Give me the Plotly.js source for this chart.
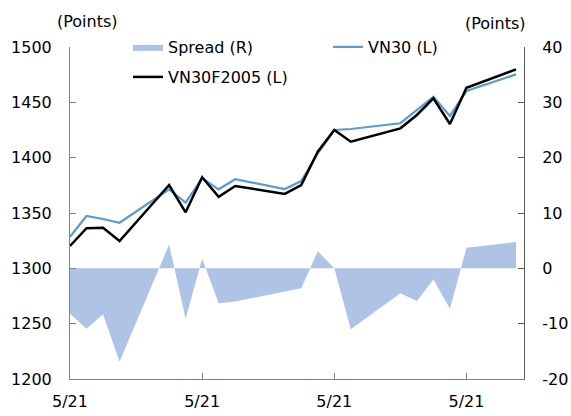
<!DOCTYPE html>
<html>
<head>
<meta charset="utf-8">
<script src="https://cdn.plot.ly/plotly-3.0.1.min.js"></script>
<style>html,body{margin:0;padding:0;background:#fff;}#chart{width:571px;height:416px;}</style>
</head>
<body>
<div id="chart"></div>
<script>
// Trading days (May 2021)
const dates = ["2021-05-04","2021-05-05","2021-05-06","2021-05-07",
  "2021-05-10","2021-05-11","2021-05-12","2021-05-13","2021-05-14",
  "2021-05-17","2021-05-18","2021-05-19","2021-05-20","2021-05-21",
  "2021-05-24","2021-05-25","2021-05-26","2021-05-27","2021-05-28",
  "2021-05-31"];
const vn30 = [1328.6,1347.3,1344.6,1341.2,1371.4,1359.3,1381.4,1371.4,1380.5,
  1371.7,1378.9,1404.0,1425.0,1425.9,1431.1,1443.1,1455.1,1437.7,1460.2,1475.3];
const vn30f = [1320.2,1336.2,1336.7,1324.7,1375.3,1350.6,1382.3,1364.7,1374.4,
  1367.2,1375.3,1405.4,1425.0,1414.4,1426.5,1438.6,1453.6,1430.4,1463.2,1479.8];
const spread = [-8.2,-10.9,-8.3,-16.9,4.3,-9.1,1.75,-6.3,-6.0,
  -4.3,-3.6,3.1,0,-11.0,-4.5,-5.9,-2.0,-7.3,3.7,4.75];
const seriesNames = ["Spread (R)","VN30 (L)","VN30F2005 (L)"];
const unitLabel = "(Points)";
const rightTickVals = [-20,-10,0,10,20,30,40];
const rightTickText = ["-20","-10","0","10","20","30","40"];

const FONT = "DejaVu Sans, Verdana, sans-serif";
const traces = [
  {x: dates, y: spread, name: seriesNames[0], type: "scatter", mode: "lines",
   yaxis: "y2", fill: "tozeroy", fillcolor: "#aec3e6", line: {width: 0, color: "#aec3e6"},
   legend: "legend", hoverinfo: "skip"},
  {x: dates, y: vn30, name: seriesNames[1], type: "scatter", mode: "lines",
   line: {color: "#5b9bd5", width: 2.25}, legend: "legend", hoverinfo: "skip"},
  {x: dates, y: vn30f, name: seriesNames[2], type: "scatter", mode: "lines",
   line: {color: "#000000", width: 2.5}, legend: "legend2", hoverinfo: "skip"}
];
const axisCommon = {showgrid: false, zeroline: false, showline: true, ticks: "inside",
  ticklen: 6, tickwidth: 1, tickfont: {family: FONT, size: 16, color: "#000"}};
const layout = {
  width: 571, height: 416,
  margin: {l: 70, r: 47, t: 47, b: 37, pad: 0},
  paper_bgcolor: "#fff", plot_bgcolor: "#fff",
  font: {family: FONT, size: 16, color: "#000"},
  showlegend: true,
  xaxis: Object.assign({}, axisCommon, {type: "date",
    range: ["2021-05-04", "2021-05-31 11:37"],
    tick0: "2021-05-04", dtick: 8 * 86400000, tickformat: "%-m/%y",
    ticklabelstandoff: 8,
    linecolor: "#808080", tickcolor: "#808080"}),
  yaxis: Object.assign({}, axisCommon, {range: [1200, 1500], dtick: 50,
    ticklabelstandoff: 14,
    linecolor: "#808080", tickcolor: "#808080"}),
  yaxis2: Object.assign({}, axisCommon, {range: [-20, 40],
    tickmode: "array", tickvals: rightTickVals, ticktext: rightTickText,
    ticklabelstandoff: 14,
    overlaying: "y", side: "right", linecolor: "#595959", tickcolor: "#595959"}),
  legend: {orientation: "h", x: 0.1278, xanchor: "left", y: 1.0, yanchor: "middle",
    entrywidth: 155, entrywidthmode: "pixels", bgcolor: "rgba(0,0,0,0)",
    font: {family: FONT, size: 16, color: "#000"}},
  legend2: {orientation: "h", x: 0.1278, xanchor: "left", y: 0.9096, yanchor: "middle",
    bgcolor: "rgba(0,0,0,0)", font: {family: FONT, size: 16, color: "#000"}},
  annotations: [
    {text: unitLabel, xref: "paper", yref: "paper", x: 0.0390, y: 1.078,
     xanchor: "center", yanchor: "middle", showarrow: false, font: {family: FONT, size: 16}},
    {text: unitLabel, xref: "paper", yref: "paper", x: 0.938, y: 1.072,
     xanchor: "center", yanchor: "middle", showarrow: false, font: {family: FONT, size: 16}}
  ]
};
Plotly.newPlot("chart", traces, layout, {displayModeBar: false, staticPlot: true});
</script>
</body>
</html>
